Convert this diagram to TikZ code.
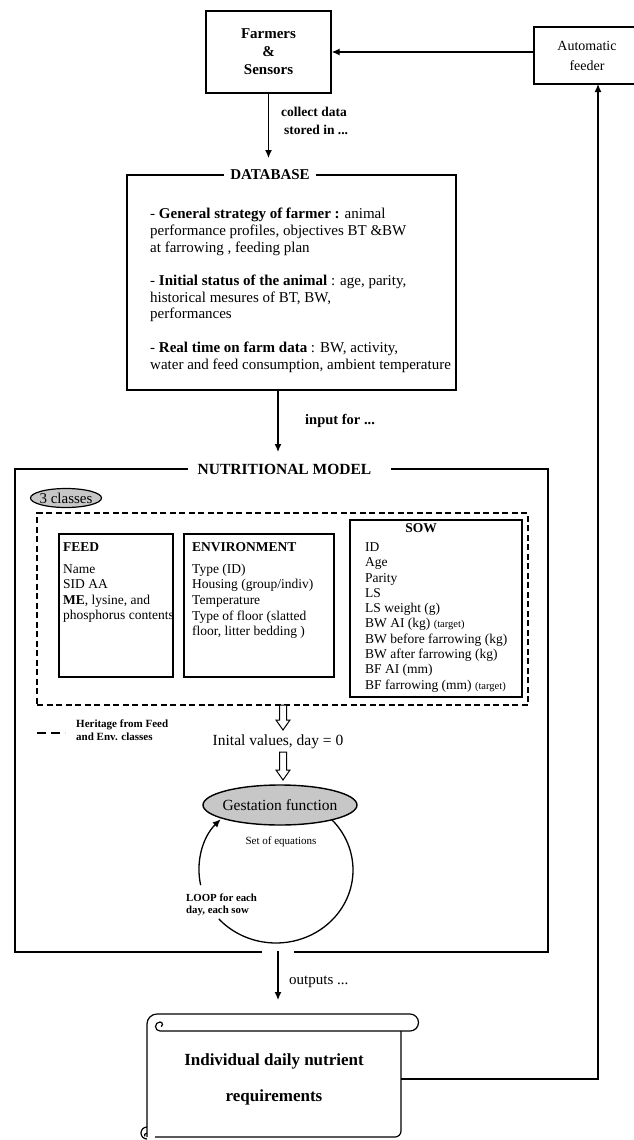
\documentclass[tikz,border=0pt]{standalone}
\usepackage{fontspec}
\setmainfont{Liberation Serif}
\usetikzlibrary{arrows.meta,calc}
\newcommand{\fsz}[2]{\fontsize{#1}{#2}\selectfont}
\begin{document}
\begin{tikzpicture}[x=1pt,y=1pt,
  bx/.style={draw, line width=1.3pt, inner sep=0pt},
  arr/.style={line width=1.3pt, -{Latex[length=8pt,width=7pt]}},
  txt/.style={inner sep=0pt, align=left, anchor=north west},
  dashbox/.style={line width=2.2pt, dash pattern=on 6pt off 3.5pt},
  hollowarrow/.style={to path={let \p1=(\tikztostart), \p2=(\tikztotarget) in
     (\x1-3.5pt,\y1) -- (\x1-3.5pt,\y2+10pt) -- (\x1-7pt,\y2+10pt) -- (\x1,\y2)
     -- (\x1+7pt,\y2+10pt) -- (\x1+3.5pt,\y2+10pt) -- (\x1+3.5pt,\y1) -- cycle}},
  grayfill/.style={fill=black!22, draw, line width=1.4pt}
]
\useasboundingbox (0,0) rectangle (633,-1140);

% ---------- top ----------
\node[bx, minimum width=125pt, minimum height=82pt, align=center,
      font=\fsz{15}{18}\bfseries] (farmers) at (268.5,-52) {Farmers\\ \&\\ Sensors};
\node[bx, minimum width=106pt, minimum height=57pt, align=center,
      font=\fsz{14}{20}] (feeder) at (587,-55.5) {Automatic\\feeder};
\draw[arr] (feeder.west |- farmers.east) -- (farmers.east);

\coordinate (a1e) at (268.5,-158);
\draw[arr] (farmers.south) -- (a1e);
\node[txt, font=\fsz{13.5}{18}\bfseries] (lbl1) at (281,-107) {collect data\\ \hspace*{3pt}stored in ...};

% ---------- database ----------
\node[bx, minimum width=329pt, minimum height=215pt] (db) at (291.5,-282.5) {};
\node[fill=white, inner xsep=6.5pt, inner ysep=1pt, font=\fsz{15}{18}\bfseries] (dbt) at (270,-175) {DATABASE};
\node[txt, font=\fsz{15}{16.7}] (dbtext) at (150,-208) {- \textbf{General strategy of farmer :} animal\\
performance profiles, objectives BT \&BW\\
at farrowing , feeding plan\\[16.7pt]
- \textbf{Initial status of the animal} : age, parity,\\
historical mesures of BT, BW,\\
performances\\[16.7pt]
- \textbf{Real time on farm data} : BW, activity,\\
water and feed consumption, ambient temperature};

\coordinate (a2s) at (278,-390);
\coordinate (a2e) at (278,-452);
\draw[arr] (a2s) -- (a2e);
\node[anchor=west, inner sep=0pt, font=\fsz{14.5}{18}\bfseries] (lbl2) at (305,-421) {input for ...};

% ---------- nutritional model ----------
\draw[line width=2.3pt] (188,-469) -- (15,-469) -- (15,-952) -- (262,-952);
\draw[line width=2.3pt] (294,-952) -- (548,-952) -- (548,-469) -- (391,-469);
\node[inner sep=0pt, font=\fsz{15.5}{18}\bfseries] (nmt) at (284.5,-469) {NUTRITIONAL MODEL};

\draw[grayfill, line width=1.2pt] (66,-498) ellipse [x radius=35.5pt, y radius=9.5pt];
\node[inner sep=0pt, font=\fsz{15}{18}] (cls) at (66,-498) {3 classes};

\node[draw, dashbox, minimum width=491pt, minimum height=192pt, inner sep=0pt] (classes) at (282.5,-609) {};

\node[bx, minimum width=114pt, minimum height=143pt] (feed) at (116,-605.5) {};
\node[bx, minimum width=150pt, minimum height=143pt] (env) at (259,-605.5) {};
\node[bx, minimum width=172pt, minimum height=177pt] (sow) at (436,-608.5) {};

\node[txt, font=\fsz{13.5}{15.3}] (feedtxt) at (63,-542.4) {\textbf{FEED}\\[6.7pt]
Name\\ SID AA\\ \textbf{ME}, lysine, and\\ phosphorus contents};
\node[txt, font=\fsz{13.5}{15.3}] (envtxt) at (192,-542.4) {\textbf{ENVIRONMENT}\\[6.7pt]
Type (ID)\\ Housing (group/indiv)\\ Temperature\\[0.7pt] Type of floor (slatted\\ floor, litter bedding )};
\node[inner sep=0pt, font=\fsz{13.5}{15.3}\bfseries] (sowt) at (421,-528) {SOW};
\node[txt, font=\fsz{13.5}{15.3}] (sowtxt) at (365,-542.4) {ID\\ Age\\ Parity\\ LS\\ LS weight (g)\\
BW AI (kg) {\fsz{10.5}{12}(target)}\\ BW before farrowing (kg)\\ BW after farrowing (kg)\\ BF AI (mm)\\
BF farrowing (mm) {\fsz{10.5}{12}(target)}};

% legend
\coordinate (lg1) at (37,-733);
\coordinate (lg2) at (65,-733);
\draw[line width=2.2pt, dash pattern=on 9pt off 5pt] (lg1) -- (lg2);
\node[txt, font=\fsz{11}{13}\bfseries] (legtxt) at (76,-719.3) {Heritage from Feed\\ and Env. classes};

% hollow arrows
\coordinate (h1s) at (283,-705);
\coordinate (h1e) at (283,-730);
\coordinate (h2s) at (283,-752);
\coordinate (h2e) at (283,-780);
\draw[fill=white, line width=1pt, line join=miter] (h1s) to[hollowarrow] (h1e);
\draw[fill=white, line width=1pt, line join=miter] (h2s) to[hollowarrow] (h2e);

\node[inner sep=0pt, font=\fsz{15.5}{18}] (init) at (278,-742) {Inital values, day = 0};

% loop
\draw[line width=1.3pt] ([shift={(50:77pt and 73pt)}]276,-870) arc[start angle=50, end angle=-138, x radius=77pt, y radius=73pt];
\draw[line width=1.3pt, -{Latex[length=8pt,width=7pt]}] ([shift={(-168:77pt and 73pt)}]276,-870) arc[start angle=-168, end angle=-224, x radius=77pt, y radius=73pt];

\draw[grayfill] (280,-805) ellipse [x radius=77pt, y radius=20pt];
\node[inner sep=0pt, font=\fsz{15.5}{18}] (gest) at (280,-805) {Gestation function};
\node[inner sep=0pt, font=\fsz{11}{13}] (eqs) at (281,-842) {Set of equations};
\node[txt, font=\fsz{10.8}{12}\bfseries] (looptxt) at (186,-893.3) {LOOP for each\\ day, each sow};

% ---------- output ----------
\coordinate (a3s) at (278,-951);
\coordinate (a3e) at (278,-1000);
\draw[arr] (a3s) -- (a3e);
\node[anchor=west, inner sep=0pt, font=\fsz{15}{18}] (lbl3) at (289,-982) {outputs ...};

% scroll
\draw[line width=1.2pt, line join=round]
  (147,-1137) -- (147,-1024) arc[start angle=180, end angle=90, radius=10pt]
  -- (410,-1014) arc[start angle=90, end angle=-90, radius=8.5pt]
  -- (160,-1031) arc[start angle=-90, end angle=-270, radius=4.5pt]
  arc[start angle=90, end angle=-60, radius=2.5pt];
\draw[line width=1.2pt, line join=round]
  (401,-1031) -- (401,-1131) arc[start angle=0, end angle=-90, radius=6pt] -- (155,-1137);
\draw[line width=1.2pt]
  (147,-1127) arc[start angle=90, end angle=270, radius=6pt]
  (147,-1133) arc[start angle=90, end angle=200, radius=2.5pt];
\node[inner sep=0pt, align=center, font=\fsz{17}{36}\bfseries] (req) at (274,-1079) {Individual daily nutrient\\ requirements};

\coordinate (reqout) at (401,-1079);
\coordinate (fdin) at (598,-84);
\draw[arr] (reqout) -| (fdin);
\end{tikzpicture}
\end{document}
